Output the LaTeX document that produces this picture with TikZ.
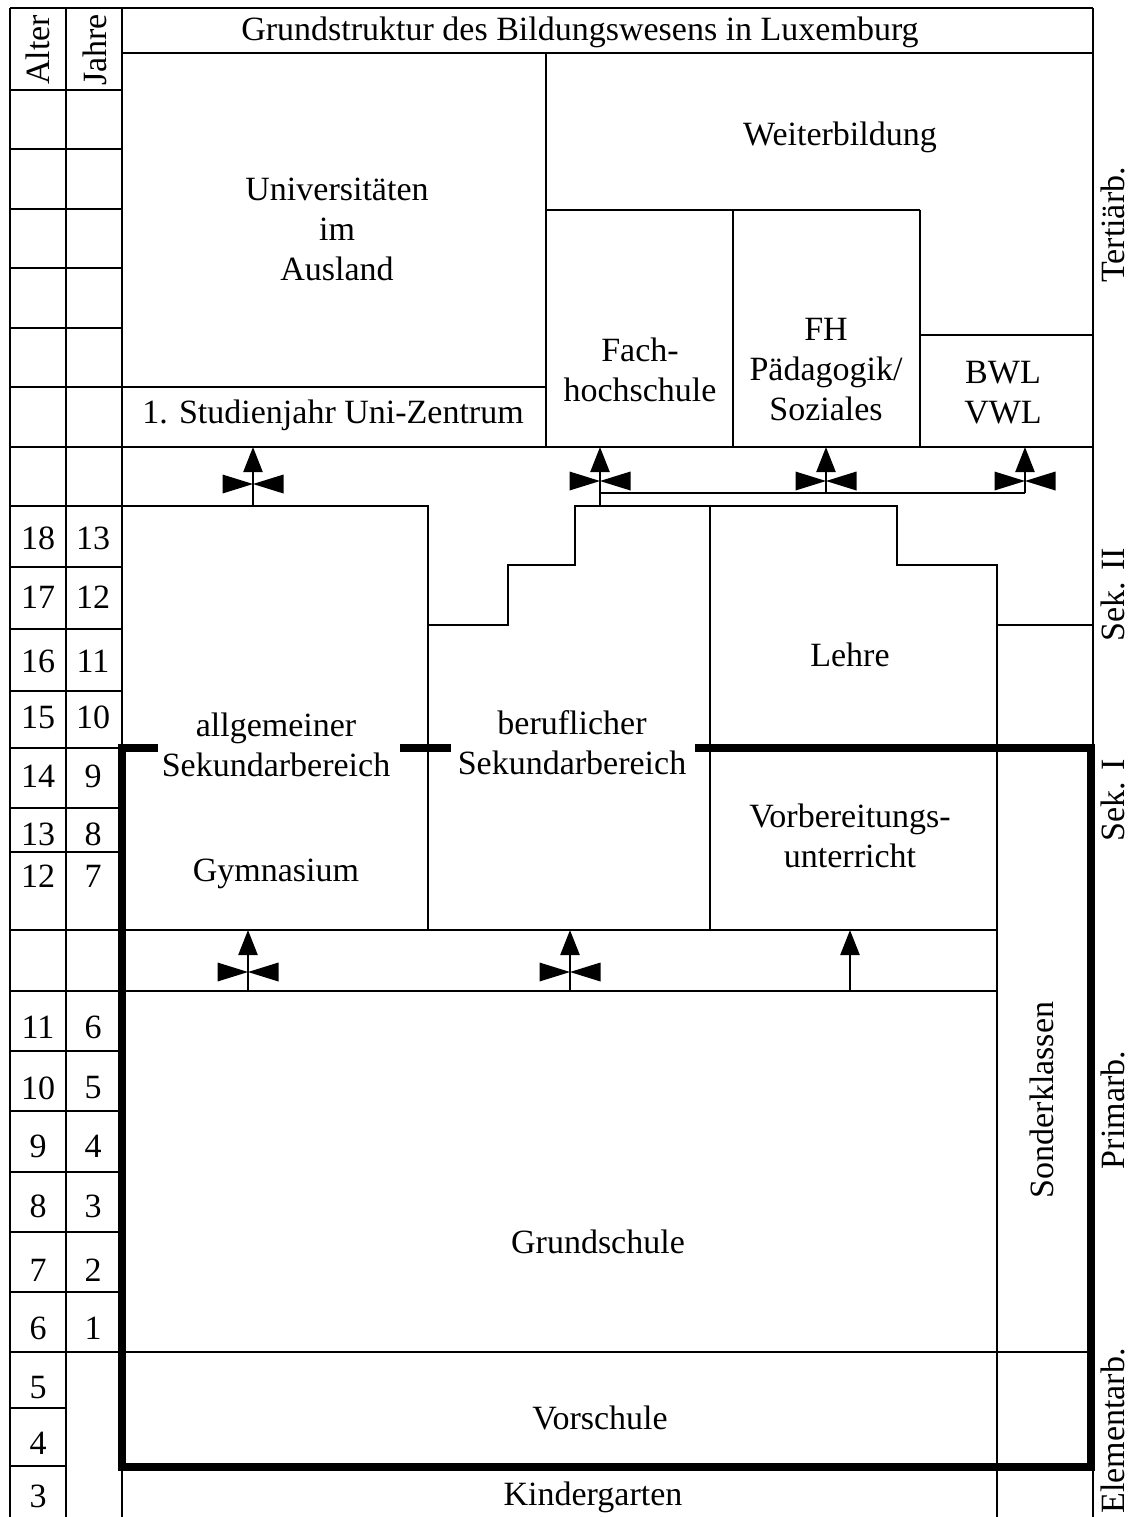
\documentclass[tikz,border=0pt]{standalone}
\usepackage{fontspec}
\setmainfont{Liberation Serif}
\usetikzlibrary{arrows.meta}
\begin{document}
\begin{tikzpicture}[x=0.5pt,y=-0.5pt,
  thinl/.style={line width=1.2pt},
  thickl/.style={line width=3.6pt},
  arr/.style={line width=1.2pt,-{Triangle[length=12.5pt,width=9.5pt]}},
  lbl/.style={font=\fontsize{17}{20}\selectfont,inner sep=0pt,align=center},
  bowtie/.pic={\fill (-30.5,-9.5) -- (0,0) -- (-30.5,9.5) -- cycle;
               \fill (30.5,-9.5) -- (0,0) -- (30.5,9.5) -- cycle;}]
\useasboundingbox (0,0) rectangle (1131,1517);
% frame
\draw[thinl] (10,8) -- (1093,8);
\draw[thinl] (10,8) -- (10,1517);
\draw[thinl] (66,8) -- (66,1517);
\draw[thinl] (122,8) -- (122,1517);
\draw[thinl] (1093,8) -- (1093,1517);
\draw[thinl] (122,53) -- (1093,53);
% age rows
\foreach \yy in {90,149,209,268,328,387,447,506,567,629,691,748,808,852,930,991,1051,1111,1172,1232,1292,1352}
  \draw[thinl] (10,\yy) -- (122,\yy);
\foreach \yy in {1408,1466}
  \draw[thinl] (10,\yy) -- (66,\yy);
% tertiary
\draw[thinl] (122,387) -- (546,387);
\draw[thinl] (546,53) -- (546,447);
\draw[thinl] (546,210) -- (920,210);
\draw[thinl] (733,210) -- (733,447);
\draw[thinl] (920,210) -- (920,447);
\draw[thinl] (920,335) -- (1093,335);
\draw[thinl] (122,447) -- (1093,447);
% secondary
\draw[thinl] (122,506) -- (428,506) -- (428,930);
\draw[thinl] (428,625) -- (508,625) -- (508,565) -- (575,565) -- (575,506) -- (897,506) -- (897,565) -- (997,565) -- (997,1517);
\draw[thinl] (710,506) -- (710,930);
\draw[thinl] (997,625) -- (1093,625);
\draw[thinl] (122,930) -- (997,930);
\draw[thinl] (122,991) -- (997,991);
\draw[thinl] (122,1352) -- (1091,1352);
% thick frame
\draw[thickl,line join=miter] (695,748) -- (1091,748) -- (1091,1467) -- (122,1467) -- (122,748) -- (158,748);
\draw[thickl] (400,748) -- (451,748);
% arrows upper band
\coordinate (a1s) at (253,506); \coordinate (a1t) at (253,447);
\coordinate (a2s) at (600,506); \coordinate (a2t) at (600,447);
\coordinate (j2) at (600,493); \coordinate (j3) at (826,493); \coordinate (j4) at (1025,493);
\coordinate (a3t) at (826,447); \coordinate (a4t) at (1025,447);
\draw[arr] (a1s) -- (a1t);
\draw[arr] (a2s) -- (a2t);
\draw[thinl] (j2) -- (j4);
\draw[arr] (j3) -- (a3t);
\draw[arr] (j4) -- (a4t);
\pic at (253,484) {bowtie};
\pic at (600,481) {bowtie};
\pic at (826,481) {bowtie};
\pic at (1025,481) {bowtie};
% arrows lower band
\coordinate (b1s) at (248,991); \coordinate (b1t) at (248,930);
\coordinate (b2s) at (570,991); \coordinate (b2t) at (570,930);
\coordinate (b3s) at (850,991); \coordinate (b3t) at (850,930);
\draw[arr] (b1s) -- (b1t);
\draw[arr] (b2s) -- (b2t);
\draw[arr] (b3s) -- (b3t);
\pic at (248,972) {bowtie};
\pic at (570,972) {bowtie};
% texts
\node[lbl] (title) at (580,32) {Grundstruktur des Bildungswesens in Luxemburg};
\node[lbl,rotate=90] (alter) at (38,50) {Alter};
\node[lbl,rotate=90] (jahre) at (95,50) {Jahre};
\node[lbl] (uni) at (337,229) {Universitäten\\im\\Ausland};
\node[lbl] (studj) at (333,415) {1. Studienjahr Uni-Zentrum};
\node[lbl] (weiter) at (840,137) {Weiterbildung};
\node[lbl] (fhs) at (640,370) {Fach-\\hochschule};
\node[lbl] (fhp) at (826,370) {FH\\Pädagogik/\\Soziales};
\node[lbl] (bwl) at (1003,393) {BWL\\VWL};
\node[lbl] (allg) at (276,745) {allgemeiner\\Sekundarbereich};
\node[lbl] (gym) at (276,874) {Gymnasium};
\node[lbl] (beruf) at (572,743) {beruflicher\\Sekundarbereich};
\node[lbl] (lehre) at (850,655) {Lehre};
\node[lbl] (vorb) at (850,836) {Vorbereitungs-\\unterricht};
\node[lbl,rotate=90] (sonder) at (1042,1100) {Sonderklassen};
\node[lbl] (grund) at (598,1242) {Grundschule};
\node[lbl] (vors) at (600,1418) {Vorschule};
\node[lbl] (kinder) at (593,1497) {Kindergarten};
\node[lbl,rotate=90] (tert) at (1113,225) {Tertiärb.};
\node[lbl,rotate=90] (sek2) at (1113,595) {Sek. II};
\node[lbl,rotate=90] (sek1) at (1113,800) {Sek. I};
\node[lbl,rotate=90] (prim) at (1113,1110) {Primarb.};
\node[lbl,rotate=90] (elem) at (1113,1431) {Elementarb.};
% ages
\foreach \a/\j/\yy [count=\i] in {18/13/538,17/12/597,16/11/661,15/10/717,14/9/776,13/8/834,12/7/876,11/6/1027,10/5/1088,9/4/1146,8/3/1206,7/2/1270,6/1/1328}{
  \node[lbl] (alt\i) at (38,\yy) {\a};
  \node[lbl] (jah\i) at (93,\yy) {\j};
}
\node[lbl] (alt14) at (38,1388) {5};
\node[lbl] (alt15) at (38,1443) {4};
\node[lbl] (alt16) at (38,1496) {3};
\end{tikzpicture}
\end{document}
